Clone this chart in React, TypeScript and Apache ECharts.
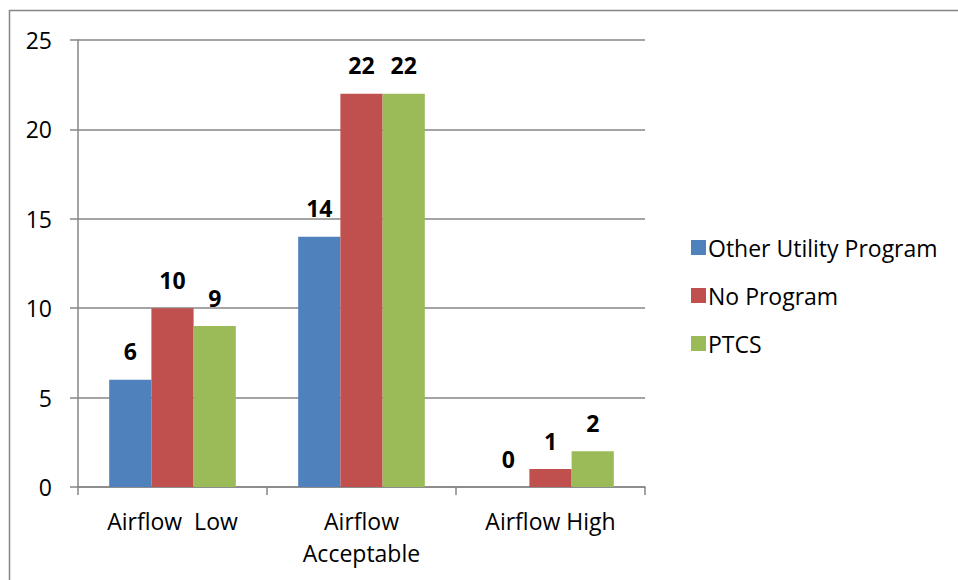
import React, { useEffect, useRef } from "react";
import * as echarts from "echarts";

const categories = ["Airflow  Low", "Airflow\nAcceptable", "Airflow High"];
const otherUtility = [6, 14, 0];
const noProgram = [10, 22, 1];
const ptcs = [9, 22, 2];
const seriesNames = ["Other Utility Program", "No Program", "PTCS"];
const colors = ["#4F81BD", "#C0504D", "#9BBB59"];

const FONT = "'Open Sans', 'Noto Sans', sans-serif";

export default function App() {
  const ref = useRef<HTMLDivElement>(null);
  useEffect(() => {
    if (!ref.current) return;
    const chart = echarts.init(ref.current, undefined, { renderer: "svg" });
    const mk = (name: string, data: number[], color: string) => ({
      name,
      type: "bar",
      data,
      barGap: "0%",
      barCategoryGap: "33%",
      itemStyle: { color },
      label: {
        show: true,
        position: "top",
        distance: 17,
        fontFamily: FONT,
        fontWeight: "bold",
        fontSize: 23,
        color: "#000",
      },
    });
    chart.setOption({
      animation: false,
      textStyle: { fontFamily: FONT },
      grid: { left: 78, right: 313, top: 40, bottom: 93, containLabel: false },
      legend: {
        orient: "vertical",
        left: 686,
        top: 231,
        itemWidth: 15,
        itemHeight: 15,
        itemGap: 25,
        icon: "rect",
        data: seriesNames,
        textStyle: { fontFamily: FONT, fontSize: 23, color: "#000", padding: [0, 0, 0, -3] },
      },
      xAxis: {
        type: "category",
        data: categories,
        axisLine: { lineStyle: { color: "#868686", width: 1.5 } },
        axisTick: { show: true, length: 8, lineStyle: { color: "#868686", width: 1.5 } },
        axisLabel: {
          fontFamily: FONT,
          fontSize: 23,
          color: "#000",
          margin: 18,
          lineHeight: 32,
        },
      },
      yAxis: {
        type: "value",
        min: 0,
        max: 25,
        interval: 5,
        axisLine: { show: true, lineStyle: { color: "#868686", width: 1.5 } },
        axisTick: { show: true, length: 8, lineStyle: { color: "#868686", width: 1.5 } },
        splitLine: { lineStyle: { color: "#868686", width: 1.5 } },
        axisLabel: { fontFamily: FONT, fontSize: 23, color: "#000", margin: 26 },
      },
      graphic: [
        {
          type: "rect",
          shape: { x: 9.5, y: 10.5, width: 1200, height: 1200 },
          style: { fill: "none", stroke: "#868686", lineWidth: 1.5 },
          silent: true,
        },
      ],
      series: [
        mk(seriesNames[0], otherUtility, colors[0]),
        mk(seriesNames[1], noProgram, colors[1]),
        mk(seriesNames[2], ptcs, colors[2]),
      ],
    });
    return () => chart.dispose();
  }, []);
  return (
    <div
      ref={ref}
      style={{ position: "fixed", left: 0, top: 0, width: 958, height: 580, background: "#fff" }}
    />
  );
}
